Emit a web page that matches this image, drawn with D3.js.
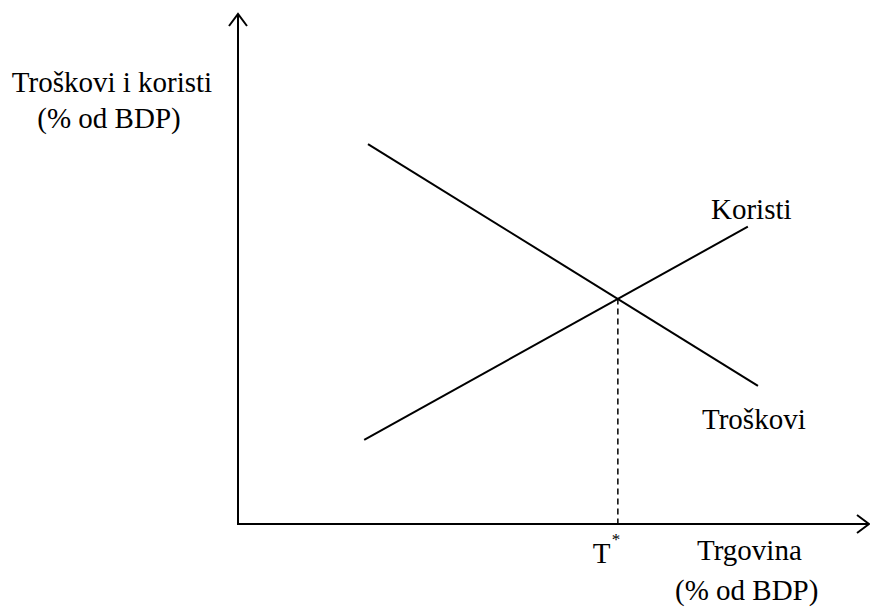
<!DOCTYPE html>
<html>
<head>
<meta charset="utf-8">
<script src="https://cdn.jsdelivr.net/npm/d3@7"></script>
</head>
<body style="margin:0">
<svg id="chart"></svg>
<script>
// values in "% of the axis" units
const costs = [{x: 20.6, y: 74.5}, {x: 82.4, y: 27.1}];      // Troškovi
const benefits = [{x: 20.0, y: 16.5}, {x: 80.8, y: 58.3}];   // Koristi
const equilibrium = {x: 60.2, y: 44.2};                       // T*
const axisMax = 100;

const svg = d3.select('#chart').attr('width', 870).attr('height', 608);

const xScale = d3.scaleLinear().domain([0, axisMax]).range([238, 869]);
const yScale = d3.scaleLinear().domain([0, axisMax]).range([524, 14]);

const curve = d3.line().x(d => xScale(d.x)).y(d => yScale(d.y));

function addLabel(txt, x, y, anchor, size) {
  return svg.append('text')
    .attr('x', x).attr('y', y).attr('font-size', size || 29)
    .attr('font-family', 'Liberation Serif')
    .attr('text-anchor', anchor || 'start')
    .style('font-family', '"Liberation Serif", "Times New Roman", Tinos, serif')
    .text(txt);
}

addLabel('Troškovi i koristi', 112, 92, 'middle');
addLabel('(% od BDP)', 109, 128, 'middle');
addLabel('Koristi', 711, 219);
addLabel('Troškovi', 702, 429);
addLabel('Trgovina', 697, 560);
addLabel('(% od BDP)', 675, 600);
addLabel('T', xScale(equilibrium.x) - 25, 563);
addLabel('*', xScale(equilibrium.x) - 6, 545, 'start', 17);

// axes with open arrowheads
const x0 = xScale(0), y0 = yScale(0), xT = xScale(axisMax), yT = yScale(axisMax);
svg.append('path')
  .attr('d', `M${x0},${y0}V${yT}M${x0 - 9},${yT + 12}L${x0},${yT}L${x0 + 9},${yT + 12}`)
  .attr('fill', 'none').attr('stroke', '#000').attr('stroke-width', 2);
svg.append('path')
  .attr('d', `M${x0 - 1},${y0}H${xT}M${xT - 12},${y0 - 9}L${xT},${y0}L${xT - 12},${y0 + 9}`)
  .attr('fill', 'none').attr('stroke', '#000').attr('stroke-width', 2);

// curves
[costs, benefits].forEach(s => {
  svg.append('path').datum(s).attr('d', curve)
    .attr('fill', 'none').attr('stroke', '#000').attr('stroke-width', 2);
});

// dashed drop line at T*
svg.append('line')
  .attr('x1', xScale(equilibrium.x)).attr('x2', xScale(equilibrium.x))
  .attr('y1', yScale(equilibrium.y)).attr('y2', y0)
  .attr('stroke', '#000').attr('stroke-width', 1.5).attr('stroke-dasharray', '6,4');
</script>
</body>
</html>
